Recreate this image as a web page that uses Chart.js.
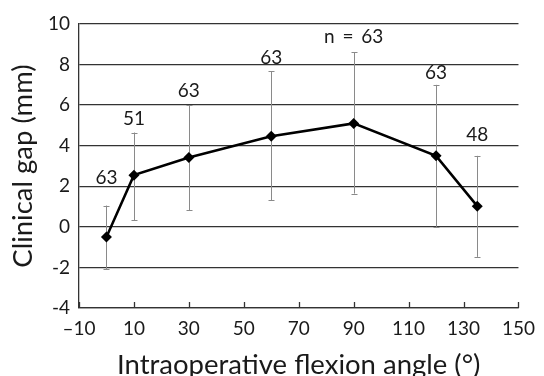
<!DOCTYPE html>
<html>
<head>
<meta charset="utf-8">
<script src="https://cdn.jsdelivr.net/npm/chart.js@4.4.1/dist/chart.umd.min.js"></script>
<style>
  html, body { margin: 0; padding: 0; background: #fff; }
  #wrap { width: 544px; height: 376px; position: relative; }
</style>
</head>
<body>
<div id="wrap"><canvas id="c" width="544" height="376"></canvas></div>
<script>
const angles = [0, 10, 30, 60, 90, 120, 135];
const gapMean = [-0.5, 2.55, 3.42, 4.47, 5.1, 3.5, 1.02];
const errLow = [-2.1, 0.33, 0.82, 1.31, 1.64, 0.0, -1.48];
const errHigh = [1.05, 4.65, 6.0, 7.68, 8.6, 7.0, 3.5];
const nLabels = ['63', '51', '63', '63', 'n = 63', '63', '48'];
const xTicks = [-10, 10, 30, 50, 70, 90, 110, 130, 150];
const xTickLabels = ['\u201310', '10', '30', '50', '70', '90', '110', '130', '150'];
const yTicks = [-4, -2, 0, 2, 4, 6, 8, 10];
const yTickLabels = ['-4', '-2', '0', '2', '4', '6', '8', '10'];

const FONT = 'Lato, "Open Sans", sans-serif';

const errorBarsPlugin = {
  id: 'errorBars',
  beforeDatasetsDraw(chart) {
    const {ctx, scales: {x, y}} = chart;
    ctx.save();
    ctx.strokeStyle = '#8a8a8a';
    ctx.lineWidth = 1;
    angles.forEach((a, i) => {
      const px = Math.round(x.getPixelForValue(a)) + 0.5;
      const lo = y.getPixelForValue(errLow[i]);
      const hi = y.getPixelForValue(errHigh[i]);
      ctx.beginPath();
      ctx.moveTo(px, lo); ctx.lineTo(px, hi);
      ctx.moveTo(px - 3, Math.round(lo) + 0.5); ctx.lineTo(px + 3, Math.round(lo) + 0.5);
      ctx.moveTo(px - 3, Math.round(hi) + 0.5); ctx.lineTo(px + 3, Math.round(hi) + 0.5);
      ctx.stroke();
    });
    // x-axis tick marks pointing up
    ctx.strokeStyle = '#333';
    ctx.lineWidth = 1.3;
    const b = chart.chartArea.bottom;
    xTicks.forEach(v => {
      const px = Math.round(x.getPixelForValue(v)) + 0.5;
      ctx.beginPath();
      ctx.moveTo(px, b); ctx.lineTo(px, b - 6);
      ctx.stroke();
    });
    ctx.restore();
  },
  afterDatasetsDraw(chart, args, opts) {
    const {ctx, scales: {x, y}} = chart;
    ctx.save();
    ctx.fillStyle = '#1a1a1a';
    ctx.font = '19px ' + FONT;
    ctx.textAlign = 'center';
    ctx.textBaseline = 'middle';
    if ('wordSpacing' in ctx) ctx.wordSpacing = '3px';
    angles.forEach((a, i) => {
      const px = x.getPixelForValue(a);
      const py = y.getPixelForValue(errHigh[i]) - opts.offsets[i];
      ctx.fillText(nLabels[i], px, py);
    });
    ctx.restore();
  }
};

new Chart(document.getElementById('c'), {
  type: 'scatter',
  data: {
    datasets: [{
      data: angles.map((a, i) => ({x: a, y: gapMean[i]})),
      showLine: true,
      borderColor: '#000',
      borderWidth: 2.5,
      backgroundColor: '#000',
      pointStyle: 'rectRot',
      pointRadius: 5.5,
      pointBorderWidth: 0,
      pointBackgroundColor: '#000'
    }]
  },
  options: {
    responsive: false,
    animation: false,
    layout: { padding: { top: 24, right: 20, left: 0, bottom: 0 } },
    plugins: {
      legend: { display: false },
      tooltip: { enabled: false },
      errorBars: { offsets: [28, 14, 14, 13, 16, 12, 21] }
    },
    scales: {
      x: {
        type: 'linear',
        min: -10, max: 150,
        afterBuildTicks: s => { s.ticks = xTicks.map(v => ({value: v})); },
        afterFit: s => { s.height = 68; },
        grid: { display: false, drawTicks: false },
        border: { display: true, color: '#333', width: 1.3 },
        ticks: {
          padding: 9,
          color: '#1a1a1a',
          font: { family: FONT, size: 19 },
          maxRotation: 0,
          callback: (v) => xTickLabels[xTicks.indexOf(v)]
        },
        title: {
          display: true,
          text: 'Intraoperative flexion angle (°)',
          color: '#1a1a1a',
          font: { family: FONT, size: 27.5, lineHeight: 1 },
          padding: { top: 0, bottom: -2.5 }
        }
      },
      y: {
        type: 'linear',
        min: -4, max: 10,
        afterBuildTicks: s => { s.ticks = yTicks.map(v => ({value: v})); },
        afterFit: s => { s.width = 79; },
        grid: { display: true, color: '#333', lineWidth: 1.3, drawTicks: false },
        border: { display: true, color: '#333', width: 1.3 },
        ticks: {
          padding: 9,
          color: '#1a1a1a',
          font: { family: FONT, size: 19 },
          callback: (v) => yTickLabels[yTicks.indexOf(v)]
        },
        title: {
          display: true,
          text: 'Clinical gap (mm)',
          color: '#1a1a1a',
          font: { family: FONT, size: 27.5, lineHeight: 1 },
          padding: { top: 9.5, bottom: 0 }
        }
      }
    }
  },
  plugins: [errorBarsPlugin]
});
</script>
</body>
</html>
